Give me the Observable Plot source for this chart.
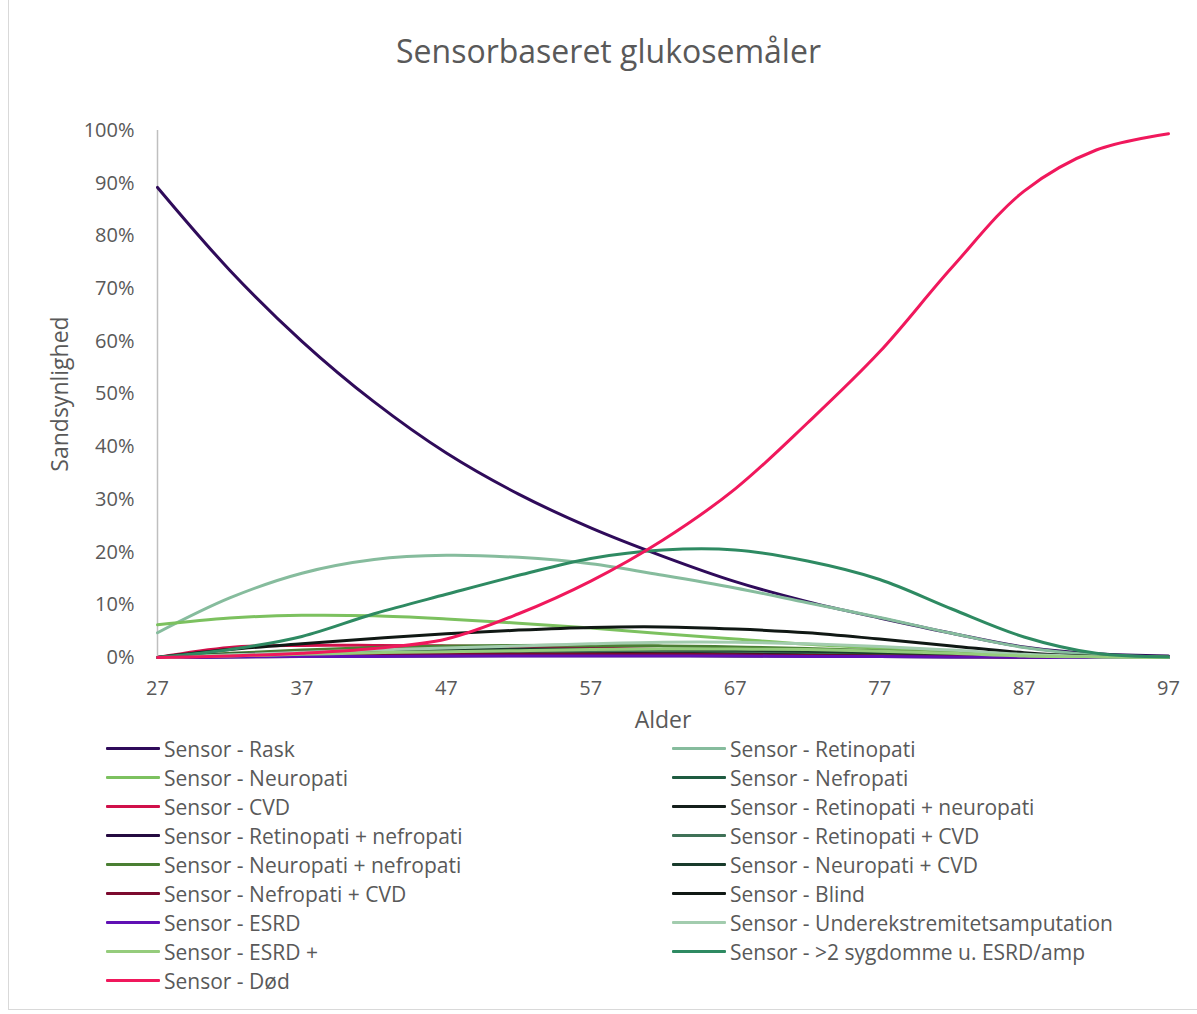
<!DOCTYPE html>
<html><head><meta charset="utf-8">
<script src="https://cdn.jsdelivr.net/npm/d3@7"></script>
<script src="https://cdn.jsdelivr.net/npm/@observablehq/plot@0.6"></script>
<style>
body{margin:0;background:#fff;font-family:"Open Sans",sans-serif;color:#595959}
#wrap{position:relative;width:1197px;height:1014px;overflow:hidden;background:#fff}
#border{position:absolute;left:8px;top:-2px;width:1200px;height:1011px;border-left:1px solid #d9d9d9;border-bottom:1px solid #d9d9d9;pointer-events:none}
#title{position:absolute;left:10px;width:1197px;top:27px;text-align:center;font-size:32px;line-height:48px;color:#595959}
#chart{position:absolute;left:0;top:80px}
.item{position:absolute;height:29px;display:flex;align-items:center;font-size:21px;color:#595959;white-space:nowrap}
.sw{width:54px;height:3.5px;margin-right:4px;border-radius:1px}
</style>
</head><body>
<div id="wrap">
<div id="border"></div>
<div id="title">Sensorbaseret glukosemåler</div>
<div id="chart"></div>
<div id="legend"></div>
</div>
<script>
const ages = [27,32,37,42,47,52,57,62,67,72,77,82,87,92,97];
const xTicks = [27,37,47,57,67,77,87,97];
const yTicks = [0,0.1,0.2,0.3,0.4,0.5,0.6,0.7,0.8,0.9,1.0];

const seriesNames = [
  "Sensor - Rask",
  "Sensor - Retinopati",
  "Sensor - Neuropati",
  "Sensor - Nefropati",
  "Sensor - CVD",
  "Sensor - Retinopati + neuropati",
  "Sensor - Retinopati + nefropati",
  "Sensor - Retinopati + CVD",
  "Sensor - Neuropati + nefropati",
  "Sensor - Neuropati + CVD",
  "Sensor - Nefropati + CVD",
  "Sensor - Blind",
  "Sensor - ESRD",
  "Sensor - Underekstremitetsamputation",
  "Sensor - ESRD +",
  "Sensor - >2 sygdomme u. ESRD/amp",
  "Sensor - Død"
];

// values in percent, one per age in `ages`
const rask       = [89.2, 73.5, 60.0, 48.5, 38.8, 31.0, 24.6, 19.2, 14.4, 10.6, 7.5, 4.6, 2.0, 0.7, 0.3];
const retinopati = [4.7, 11.3, 16.0, 18.6, 19.4, 19.0, 17.8, 15.6, 13.2, 10.4, 7.6, 4.6, 1.9, 0.5, 0.1];
const neuropati  = [6.2, 7.5, 8.0, 7.9, 7.3, 6.5, 5.6, 4.5, 3.5, 2.5, 1.8, 1.2, 0.6, 0.2, 0.05];
const nefropati  = [0, 0.6, 0.9, 1.1, 1.2, 1.2, 1.2, 1.1, 1.0, 0.8, 0.6, 0.4, 0.2, 0.05, 0];
const cvd        = [0, 1.9, 2.3, 2.3, 2.2, 2.0, 1.8, 1.5, 1.2, 0.9, 0.6, 0.4, 0.2, 0.05, 0];
const retNeuro   = [0, 0.5, 0.8, 1.0, 1.1, 1.2, 1.2, 1.1, 1.0, 0.8, 0.6, 0.4, 0.2, 0.05, 0];
const retNefro   = [0, 0.1, 0.2, 0.3, 0.3, 0.4, 0.4, 0.4, 0.3, 0.3, 0.2, 0.1, 0.05, 0, 0];
const retCvd     = [0, 0.4, 0.7, 0.9, 1.1, 1.2, 1.3, 1.3, 1.2, 1.0, 0.8, 0.5, 0.2, 0.05, 0];
const neuroNefro = [0, 0.8, 1.4, 1.9, 2.2, 2.3, 2.3, 2.2, 2.0, 1.7, 1.3, 0.8, 0.4, 0.1, 0];
const neuroCvd   = [0, 0.6, 1.0, 1.3, 1.5, 1.6, 1.6, 1.5, 1.4, 1.2, 0.9, 0.5, 0.2, 0.05, 0];
const nefroCvd   = [0, 0.3, 0.5, 0.6, 0.6, 0.6, 0.6, 0.6, 0.5, 0.4, 0.3, 0.2, 0.1, 0, 0];
const blind      = [0, 1.5, 2.6, 3.6, 4.5, 5.2, 5.7, 5.8, 5.4, 4.7, 3.5, 2.2, 0.9, 0.2, 0.05];
const esrd       = [0, 0.1, 0.2, 0.2, 0.3, 0.3, 0.3, 0.3, 0.3, 0.2, 0.2, 0.1, 0.05, 0, 0];
const amputation = [0, 0.5, 1.0, 1.4, 1.8, 2.2, 2.6, 2.9, 2.9, 2.6, 2.1, 1.4, 0.6, 0.15, 0];
const esrdPlus   = [0, 0.3, 0.6, 0.9, 1.1, 1.3, 1.5, 1.6, 1.6, 1.5, 1.2, 0.8, 0.3, 0.1, 0];
const sygdomme   = [0, 1.5, 4.0, 8.3, 12.0, 15.6, 18.8, 20.4, 20.4, 18.3, 14.8, 9.2, 3.9, 0.8, 0.1];
const dod        = [0, 0.3, 0.8, 1.7, 3.5, 8.3, 14.5, 22.3, 32.0, 44.5, 58.0, 74.0, 88.5, 96.3, 99.4];

const seriesValues = [rask, retinopati, neuropati, nefropati, cvd, retNeuro, retNefro, retCvd,
  neuroNefro, neuroCvd, nefroCvd, blind, esrd, amputation, esrdPlus, sygdomme, dod];

const seriesColors = ["#2F0B5A","#86BC9D","#7CC15F","#1E5B40","#D0104A","#141F1B","#240A40","#3F7157",
  "#4A7F33","#183B2B","#7C0A2E","#101814","#6010B4","#A2CCAE","#95CC7C","#2E8A62","#F0185C"];

const table = [];
seriesNames.forEach((name, i) => {
  seriesValues[i].forEach((v, j) => table.push({series: name, age: ages[j], p: v / 100}));
});

const chart = Plot.plot({
  width: 1197,
  height: 660,
  marginLeft: 157,
  marginRight: 29,
  marginTop: 50,
  marginBottom: 83,
  style: {fontFamily: "'Open Sans', sans-serif", fontSize: "20px", color: "#595959", background: "transparent", overflow: "visible"},
  x: {domain: [27, 97], ticks: xTicks, tickSize: 0, tickPadding: 23, label: null, tickFormat: d => String(d)},
  y: {domain: [0, 1], ticks: yTicks, tickSize: 0, tickPadding: 23, label: null, tickFormat: d3.format(".0%")},
  color: {domain: seriesNames, range: seriesColors},
  marks: [
    Plot.ruleX([27], {stroke: "#BFBFBF", strokeWidth: 1.5}),
    Plot.ruleY([0], {stroke: "#D9D9D9", strokeWidth: 1}),
    Plot.line(table, {x: "age", y: "p", z: "series", stroke: "series", strokeWidth: 3, curve: "catmull-rom"}),
    Plot.text(["Alder"], {text: d => d, frameAnchor: "bottom", dy: 70, fontSize: 23, fill: "#595959"}),
    Plot.text(["Sandsynlighed"], {text: d => d, frameAnchor: "left", textAnchor: "middle", dx: -97, rotate: -90, fontSize: 23, fill: "#595959"})
  ]
});
document.getElementById("chart").appendChild(chart);

const legend = document.getElementById("legend");
seriesNames.forEach((name, i) => {
  const col = i % 2, row = Math.floor(i / 2);
  const el = document.createElement("div");
  el.className = "item";
  el.style.left = (col === 0 ? 106 : 672) + "px";
  el.style.top = (749 - 15 + row * 29) + "px";
  const sw = document.createElement("div");
  sw.className = "sw";
  sw.style.background = seriesColors[i];
  const tx = document.createElement("span");
  tx.textContent = name;
  el.appendChild(sw); el.appendChild(tx);
  legend.appendChild(el);
});
</script>
</body></html>
